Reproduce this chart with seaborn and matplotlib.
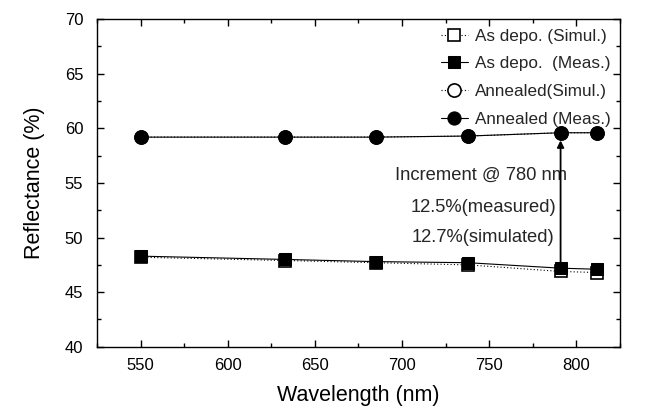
import numpy as np
import pandas as pd
import matplotlib
matplotlib.use("Agg")
import matplotlib.pyplot as plt
import seaborn as sns
from matplotlib.ticker import MultipleLocator

# ---- data ----
wavelength = [550, 633, 685, 738, 791, 812]
asdepo_simul = [48.2, 47.9, 47.7, 47.5, 46.9, 46.8]
asdepo_meas = [48.3, 48.0, 47.8, 47.7, 47.2, 47.1]
annealed_simul = [59.2, 59.2, 59.2, 59.3, 59.6, 59.6]
annealed_meas = [59.2, 59.2, 59.2, 59.3, 59.6, 59.6]

labels = ["As depo. (Simul.)", "As depo.  (Meas.)", "Annealed(Simul.)", "Annealed (Meas.)"]
annot_lines = ["Increment @ 780 nm", "12.5%(measured)", "12.7%(simulated)"]

sns.set_style("ticks")
plt.rcParams['font.family'] = ['Liberation Sans', 'DejaVu Sans']

fig = plt.figure(figsize=(6.47, 4.08), dpi=100)
ax = fig.add_axes([0.150, 0.150, 0.808, 0.803])

# simulated (hollow, dotted) drawn first, measured (filled, solid) on top
sns.lineplot(x=wavelength, y=asdepo_simul, ax=ax, color="black", lw=0.8,
             linestyle=(0, (1, 2)), marker="s", markersize=8.5,
             markerfacecolor="white", markeredgecolor="black", markeredgewidth=1.2,
             label=labels[0], zorder=3)
sns.lineplot(x=wavelength, y=asdepo_meas, ax=ax, color="black", lw=0.8,
             linestyle="-", marker="s", markersize=8.5,
             markerfacecolor="black", markeredgecolor="black",
             label=labels[1], zorder=4)
sns.lineplot(x=wavelength, y=annealed_simul, ax=ax, color="black", lw=0.8,
             linestyle=(0, (1, 2)), marker="o", markersize=9.5,
             markerfacecolor="white", markeredgecolor="black", markeredgewidth=1.2,
             label=labels[2], zorder=3)
sns.lineplot(x=wavelength, y=annealed_meas, ax=ax, color="black", lw=0.8,
             linestyle="-", marker="o", markersize=9.5,
             markerfacecolor="black", markeredgecolor="black",
             label=labels[3], zorder=4)

ax.set_xlim(525, 825)
ax.set_ylim(40, 70)
ax.xaxis.set_major_locator(MultipleLocator(50))
ax.xaxis.set_minor_locator(MultipleLocator(25))
ax.yaxis.set_major_locator(MultipleLocator(5))
ax.yaxis.set_minor_locator(MultipleLocator(2.5))
ax.tick_params(which="both", direction="in", top=True, right=True,
               colors="black", labelsize=12, width=1)
ax.tick_params(which="major", length=5)
ax.tick_params(which="minor", length=3)
ax.tick_params(axis="y", pad=10)
ax.tick_params(axis="x", pad=8)
for s in ax.spines.values():
    s.set_visible(True)
    s.set_color("black")
    s.set_linewidth(1.0)

ax.set_xlabel("Wavelength (nm)", fontsize=15.5, color="black", labelpad=9)
ax.set_ylabel("Reflectance (%)", fontsize=15.5, color="black", labelpad=14)

# arrow at 780 nm point
x_ar = wavelength[4]
ax.annotate("", xy=(x_ar, 58.9), xytext=(x_ar, 47.6),
            arrowprops=dict(arrowstyle="-|>", color="black", lw=1.3,
                            mutation_scale=10, shrinkA=0, shrinkB=0), zorder=5)

ax.text(745.5, 55.7, annot_lines[0], fontsize=13.2, ha="center", va="center")
ax.text(747, 52.8, annot_lines[1], fontsize=13.2, ha="center", va="center")
ax.text(746.5, 50.05, annot_lines[2], fontsize=13.2, ha="center", va="center")

leg = ax.legend(loc="upper right", frameon=False, fontsize=12.3,
                handlelength=1.6, handletextpad=0.4, labelspacing=0.75,
                borderaxespad=0.15, bbox_to_anchor=(1.0, 1.0))

fig.savefig("out.png", dpi=100)
